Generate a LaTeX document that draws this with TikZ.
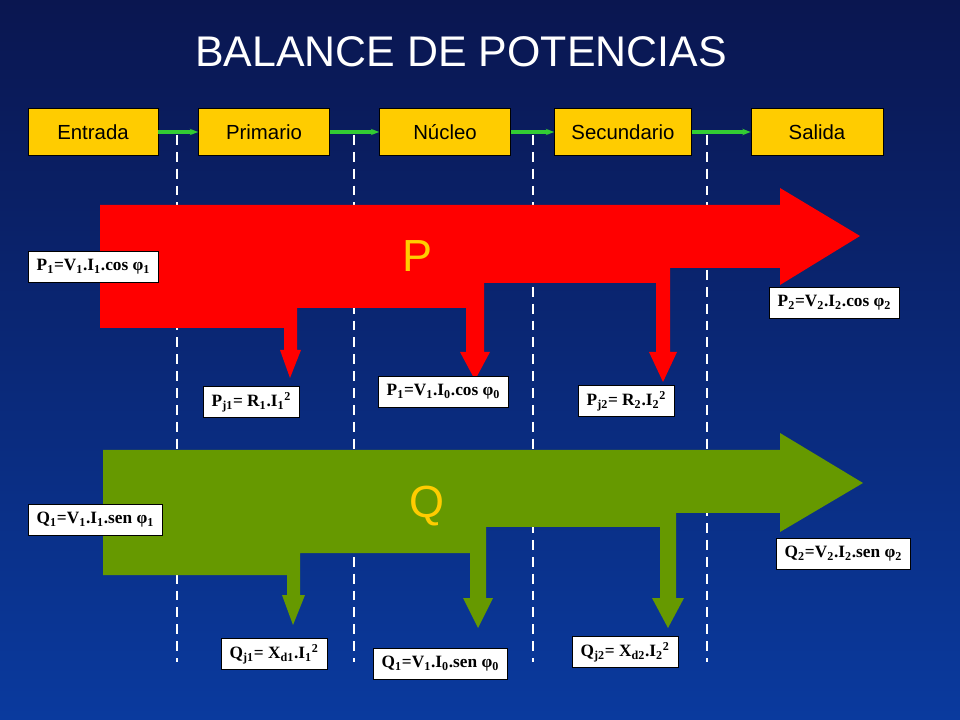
\documentclass[tikz,border=0pt]{standalone}
\usepackage{fontspec}
\setmainfont{Liberation Serif}
\setsansfont{Liberation Sans}
\usetikzlibrary{arrows.meta}
\definecolor{bgtop}{HTML}{0A1650}
\definecolor{bgbot}{HTML}{0A3A9E}
\definecolor{boxyel}{HTML}{FFCC00}
\definecolor{pred}{HTML}{FF0000}
\definecolor{qgreen}{HTML}{669900}
\definecolor{linkgreen}{HTML}{33CC33}
\newcommand{\sbs}[1]{\textsubscript{#1}}
\newcommand{\sps}[1]{\textsuperscript{#1}}
\tikzset{
  stage/.style={draw=black,fill=boxyel,minimum width=130*0.025cm,minimum height=47*0.025cm,
    font=\sffamily\fontsize{14.5}{16}\selectfont,inner sep=0pt},
  formula/.style={draw=black,fill=white,font=\bfseries\fontsize{12.3}{14}\selectfont,
    minimum height=31*0.025cm,inner ysep=3pt,inner xsep=6pt,anchor=west},
  link/.style={draw=linkgreen,line width=2.2pt,-{Stealth[length=6pt]}},
  cut/.style={draw=white,line width=1.6pt,dash pattern=on 7pt off 5pt}
}
\begin{document}
\begin{tikzpicture}[x=0.025cm,y=-0.025cm]
\shade[top color=bgtop,bottom color=bgbot] (0,0) rectangle (960,720);
\useasboundingbox (0,0) rectangle (960,720);
% title
\node[text=white,font=\sffamily\fontsize{30.5}{34}\selectfont] (title) at (461,52) {BALANCE DE POTENCIAS};
% stages
\node[stage] (entrada) at (93,132) {Entrada};
\node[stage,minimum width=131*0.025cm] (primario) at (264,132) {Primario};
\node[stage,minimum width=131*0.025cm] (nucleo) at (445,132) {Núcleo};
\node[stage,minimum width=137*0.025cm] (secundario) at (623,132) {Secundario};
\node[stage,minimum width=132*0.025cm] (salida) at (817,132) {Salida};
\draw[link] (entrada.east) -- (primario.west);
\draw[link] (primario.east) -- (nucleo.west);
\draw[link] (nucleo.east) -- (secundario.west);
\draw[link] (secundario.east) -- (salida.west);
% cuts
\foreach \x in {177,354,533,707}
  \draw[cut] (\x,135) -- (\x,662);
% active power
\fill[pred] (100,205) -- (780,205) -- (780,188) -- (860,236) -- (780,285) -- (780,268)
  -- (670,268) -- (670,352) -- (677,352) -- (663,382) -- (649,352) -- (656,352) -- (656,283)
  -- (484,283) -- (484,352) -- (490,352) -- (475,380) -- (460,352) -- (466,352) -- (466,308)
  -- (297,308) -- (297,350) -- (301,350) -- (290,378) -- (280,350) -- (284,350) -- (284,328)
  -- (100,328) -- cycle;
\node[text=boxyel,font=\sffamily\fontsize{32}{36}\selectfont] (plabel) at (418,256) {P};
% reactive power
\fill[qgreen] (103,450) -- (780,450) -- (780,433) -- (863,483) -- (780,532) -- (780,513)
  -- (676,513) -- (676,598) -- (684,598) -- (668,628) -- (652,598) -- (660,598) -- (660,527)
  -- (486,527) -- (486,598) -- (493,598) -- (478,628) -- (463,598) -- (470,598) -- (470,553)
  -- (300,553) -- (300,595) -- (305,595) -- (293,625) -- (282,595) -- (287,595) -- (287,575)
  -- (103,575) -- cycle;
\node[text=boxyel,font=\sffamily\fontsize{32}{36}\selectfont] (qlabel) at (427,506) {Q};
% formulas
\node[formula] (pin) at (28,267) {P\sbs{1}=V\sbs{1}.I\sbs{1}.cos φ\sbs{1}};
\node[formula] (pout) at (769,303) {P\sbs{2}=V\sbs{2}.I\sbs{2}.cos φ\sbs{2}};
\node[formula] (pj1) at (203,402) {P\sbs{j1}= R\sbs{1}.I\sbs{1}\sps{2}};
\node[formula] (pfe) at (378,392) {P\sbs{1}=V\sbs{1}.I\sbs{0}.cos φ\sbs{0}};
\node[formula] (pj2) at (578,401) {P\sbs{j2}= R\sbs{2}.I\sbs{2}\sps{2}};
\node[formula] (qin) at (28,520) {Q\sbs{1}=V\sbs{1}.I\sbs{1}.sen φ\sbs{1}};
\node[formula] (qout) at (776,554) {Q\sbs{2}=V\sbs{2}.I\sbs{2}.sen φ\sbs{2}};
\node[formula] (qj1) at (221,654) {Q\sbs{j1}= X\sbs{d1}.I\sbs{1}\sps{2}};
\node[formula] (qfe) at (373,664) {Q\sbs{1}=V\sbs{1}.I\sbs{0}.sen φ\sbs{0}};
\node[formula] (qj2) at (572,652) {Q\sbs{j2}= X\sbs{d2}.I\sbs{2}\sps{2}};
\end{tikzpicture}
\end{document}
